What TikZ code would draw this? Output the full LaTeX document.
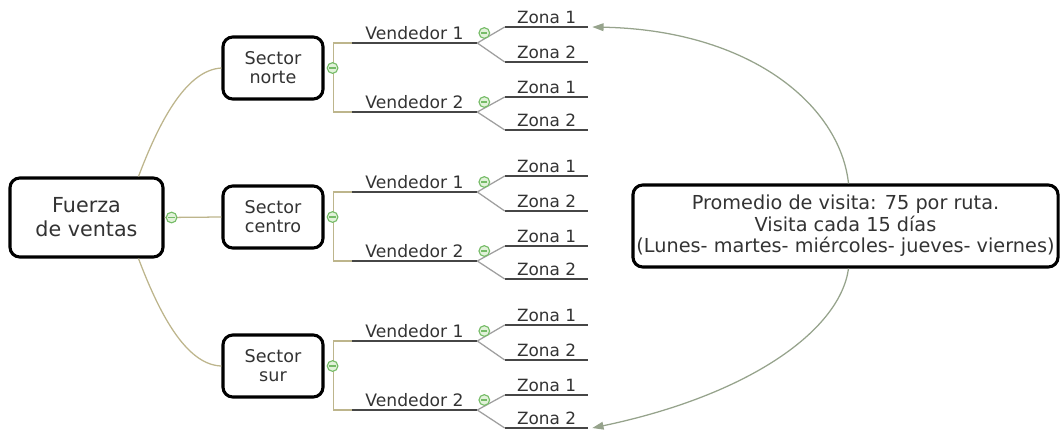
\documentclass[tikz,border=0pt]{standalone}
\usepackage{fontspec}
\setmainfont{DejaVu Sans}
\usetikzlibrary{positioning, calc, arrows.meta}

\definecolor{linkcol}{RGB}{189,181,140}
\definecolor{foldcol}{RGB}{118,188,104}
\definecolor{foldfill}{RGB}{226,242,218}
\definecolor{notecol}{RGB}{150,163,140}
\definecolor{linecol}{RGB}{70,70,70}

\begin{document}
\begin{tikzpicture}[x=0.025cm, y=-0.025cm,
            topbox/.style={draw=black, line width=2.2pt, rounded corners=7pt, fill=white, align=center, text=black!80, inner sep=0pt},
            mainbox/.style={topbox, minimum width=3.825cm, minimum height=1.975cm, font=\fontsize{14.7}{17}\selectfont},
            sectorbox/.style={topbox, minimum width=2.5cm, minimum height=1.55cm, font=\fontsize{12.5}{13.5}\selectfont},
            notebox/.style={topbox, minimum width=10.625cm, minimum height=2.05cm, font=\fontsize{13.7}{15.2}\selectfont},
            uline/.style={draw=linecol, line width=1.2pt},
            seller/.style={anchor=south, minimum width=3.125cm, inner xsep=0pt, inner ysep=1.8pt, text=black!80, font=\fontsize{12.2}{13}\selectfont,
                append after command={(\tikzlastnode.south west) edge[uline] (\tikzlastnode.south east)}},
            zone/.style={seller, minimum width=2.075cm, font=\fontsize{12}{13}\selectfont},
            link/.style={draw=linkcol, line width=0.9pt},
            branch/.style={draw=gray!75, line width=0.9pt},
            fold/.style={circle, draw=foldcol, fill=foldfill, line width=0.8pt, minimum size=7.6pt, inner sep=0pt,
                path picture={\draw[foldcol, line width=0.8pt] ([xshift=1.6pt]path picture bounding box.west) -- ([xshift=-1.6pt]path picture bounding box.east);}},
            note/.style={draw=notecol, line width=0.9pt, -{Triangle[length=8pt, width=5.5pt]}}
        ]
        \useasboundingbox (0,0) rectangle (1062,430);

        % Hauptknoten
        \node[mainbox] (fv) at (86.5,217.5) {Fuerza\\de ventas};
        \node[notebox] (prom) at (845.5,226) {Promedio de visita: 75 por ruta.\\Visita cada 15 días\\(Lunes- martes- miércoles- jueves- viernes)};

        % Sektoren mit Verkaeufern und Zonen
        \foreach \nm/\yc in {norte/68, centro/217, sur/366} {
            \node[sectorbox] (s-\nm) at (273,\yc) {Sector\\\nm};
            \node[seller] (v1-\nm) at (414.5,\yc-25) {Vendedor 1};
            \node[seller] (v2-\nm) at (414.5,\yc+44) {Vendedor 2};
            \node[zone] (z11-\nm) at (546.5,\yc-41) {Zona 1};
            \node[zone] (z12-\nm) at (546.5,\yc-6) {Zona 2};
            \node[zone] (z21-\nm) at (546.5,\yc+29) {Zona 1};
            \node[zone] (z22-\nm) at (546.5,\yc+62) {Zona 2};
            \draw[link] (v1-\nm.south west) -- ++(-18,0) |- (v2-\nm.south west);
            \draw[branch] (v1-\nm.south east) -- (z11-\nm.south west);
            \draw[branch] (v1-\nm.south east) -- (z12-\nm.south west);
            \draw[branch] (v2-\nm.south east) -- (z21-\nm.south west);
            \draw[branch] (v2-\nm.south east) -- (z22-\nm.south west);
            \node[fold] (f-\nm) at ($(s-\nm.east)+(8,0)$) {};
            \node[fold] (fv1-\nm) at ($(v1-\nm.south east)+(7,-10)$) {};
            \node[fold] (fv2-\nm) at ($(v2-\nm.south east)+(7,-10)$) {};
        }

        % Kanten
        \draw[link] (fv.east) -- (s-centro.west);
        \draw[link] ($(fv.north)+(52,0)$) .. controls (158,125) and (185,70) .. (s-norte.west);
        \draw[link] ($(fv.south)+(52,0)$) .. controls (158,310) and (185,365) .. (s-sur.west);
        \node[fold] (f-fv) at ($(fv.east)+(7,0)$) {};

        \draw[note] ($(prom.north)+(3,0)$) .. controls (840,105) and (750,30) .. ($(z11-norte.south east)+(4,0)$);
        \draw[note] ($(prom.south)+(3,0)$) .. controls (840,330) and (750,395) .. ($(z22-sur.south east)+(4,0)$);

    \end{tikzpicture}
\end{document}
